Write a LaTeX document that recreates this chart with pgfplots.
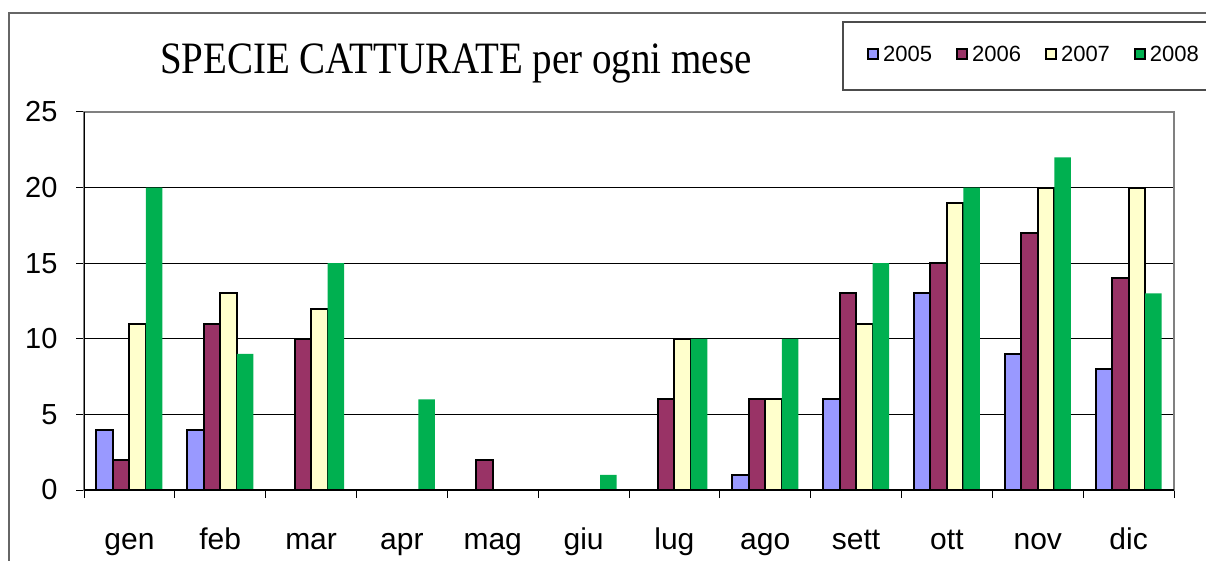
\documentclass[border=0pt]{standalone}
\usepackage{fontspec}
\setmainfont{Liberation Sans}
\newfontfamily\titlefont{Liberation Serif}
\usepackage{pgfplots}
\pgfplotsset{compat=1.18}
\definecolor{c05}{HTML}{9999FF}
\definecolor{c06}{HTML}{993366}
\definecolor{c07}{HTML}{FFFFCC}
\definecolor{c08}{HTML}{00B050}
\begin{document}
\begin{tikzpicture}
\useasboundingbox (0,0) rectangle (1206pt,560pt);
\fill[white] (0,0) rectangle (1206pt,560pt);
% outer frame
\draw[black!60, line width=1.3pt] (9pt,-5pt) -- (9pt,547pt) -- (1215pt,547pt);
% legend box
\draw[black!70, line width=1.3pt] (1215pt,538pt) -- (843pt,538pt) -- (843pt,470pt) -- (1215pt,470pt);
\node[anchor=base west, inner sep=0pt, font=\titlefont\fontsize{39pt}{44pt}\selectfont] at (160pt,486pt) {\scalebox{1}[1.15]{SPECIE CATTURATE per ogni mese}};
\begin{axis}[
  at={(84pt,70pt)}, anchor=south west,
  scale only axis, width=1090pt, height=378pt,
  xmin=-0.5, xmax=11.5, ymin=0, ymax=25,
  ybar=0pt, bar width=16.5pt,
  ytick={0,5,10,15,20,25},
  xtick={-0.5,0.5,1.5,2.5,3.5,4.5,5.5,6.5,7.5,8.5,9.5,10.5,11.5},
  xticklabels={{},{},{},{},{},{},{},{},{},{},{},{},{}},
  extra x ticks={0,1,2,3,4,5,6,7,8,9,10,11},
  extra x tick labels={gen,feb,mar,apr,mag,giu,lug,ago,sett,ott,nov,dic},
  extra x tick style={major tick length=0pt, grid=none,
    xticklabel style={anchor=base, yshift=-59pt}},
  tick align=outside, tick pos=left,
  major tick length=8pt,
  tick style={black, line width=1pt},
  ymajorgrids, grid style={black, line width=1pt},
  axis line style={draw=black!50, line width=1.5pt},
  /pgf/number format/assume math mode=true,
  xticklabel style={font=\fontsize{30pt}{36pt}\selectfont},
  yticklabel style={font=\fontsize{29pt}{34pt}\selectfont, xshift=-15pt},
  legend columns=4,
  legend style={draw=none, fill=none, at={(axis description cs:0.7183,1.152)}, anchor=west,
    inner sep=0pt, font=\fontsize{22pt}{26pt}\selectfont,
    nodes={inner sep=0pt},
    /tikz/every odd column/.append style={column sep=4pt},
    /tikz/every even column/.append style={column sep=24pt}},
  legend image code/.code={\draw[#1, line width=1.8pt] (0.9pt,-4.6pt) rectangle (11.1pt,5.6pt);},
]
\addplot[fill=c05, draw=black, line width=2pt] coordinates {(0,4)(1,4)(7,1)(8,6)(9,13)(10,9)(11,8)};
\addplot[fill=c06, draw=black, line width=2pt] coordinates {(0,2)(1,11)(2,10)(4,2)(6,6)(7,6)(8,13)(9,15)(10,17)(11,14)};
\addplot[fill=c07, draw=black, line width=2pt] coordinates {(0,11)(1,13)(2,12)(6,10)(7,6)(8,11)(9,19)(10,20)(11,20)};
\addplot[fill=c08, draw=none] coordinates {(0,20)(1,9)(2,15)(3,6)(5,1)(6,10)(7,10)(8,15)(9,20)(10,22)(11,13)};
\legend{2005,2006,2007,2008}
\draw[black, line width=1.5pt] (rel axis cs:0,1) -- (rel axis cs:0,0) -- (rel axis cs:1,0);
\end{axis}
\end{tikzpicture}
\end{document}
